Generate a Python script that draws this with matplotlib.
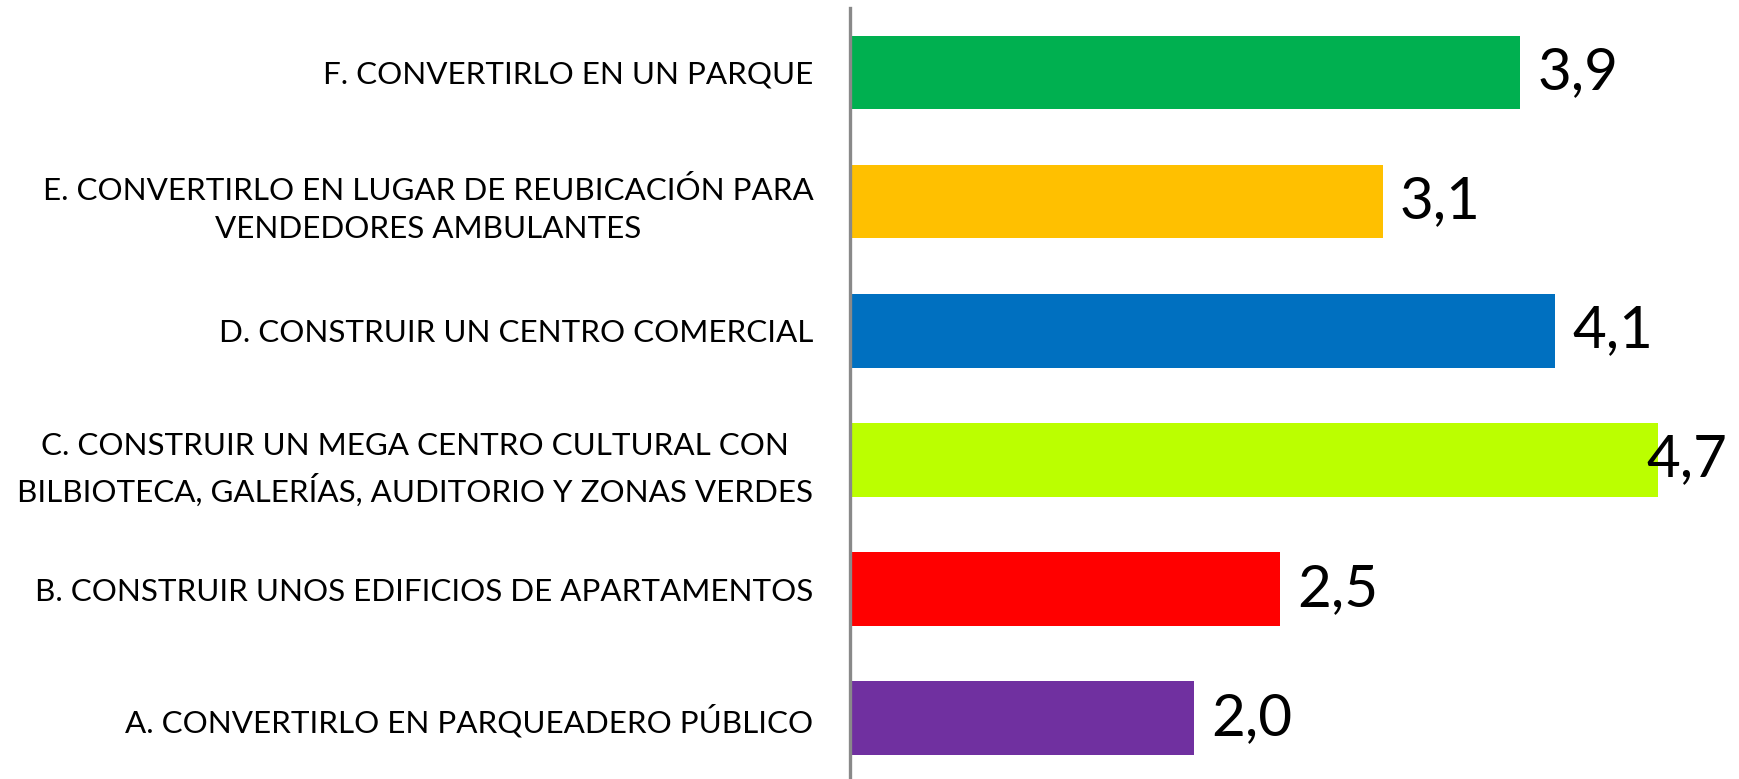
import matplotlib
matplotlib.use("Agg")
import matplotlib.pyplot as plt
from matplotlib.transforms import blended_transform_factory

categories = [
    "A. CONVERTIRLO EN PARQUEADERO PÚBLICO",
    "B. CONSTRUIR UNOS EDIFICIOS DE APARTAMENTOS",
    "C. CONSTRUIR UN MEGA CENTRO CULTURAL CON\nBILBIOTECA, GALERÍAS, AUDITORIO Y ZONAS VERDES",
    "D. CONSTRUIR UN CENTRO COMERCIAL",
    "E. CONVERTIRLO EN LUGAR DE REUBICACIÓN PARA\nVENDEDORES AMBULANTES",
    "F. CONVERTIRLO EN UN PARQUE",
]
values = [2.0, 2.5, 4.7, 4.1, 3.1, 3.9]
colors = ["#7030A0", "#FF0000", "#BBFF00", "#0070C0", "#FFC000", "#00B050"]

plt.rcParams['font.family'] = ['Lato', 'DejaVu Sans']

fig = plt.figure(figsize=(17.39, 7.79), dpi=100)
ax = fig.add_axes([0.4885, -0.005, 0.4966, 0.995])

ypos = list(range(len(categories)))
ax.barh(ypos, values, height=0.57, color=colors)
ax.set_xlim(0, 5.02)
ax.set_ylim(-0.5, 5.5)

for s in ["top", "right", "bottom"]:
    ax.spines[s].set_visible(False)
ax.spines["left"].set_color("#898989")
ax.spines["left"].set_linewidth(2.4)
ax.set_xticks([])
ax.set_yticks(ypos)
ax.set_yticklabels(categories, fontsize=22.6, multialignment="center", linespacing=1.47)
ax.tick_params(axis="y", length=0, pad=26)

trans = blended_transform_factory(fig.transFigure, ax.transData)
for y, v in zip(ypos, values):
    lbl = f"{v:.1f}".replace(".", ",")
    if v > 4.5:
        ax.text(0.993, y, lbl, transform=trans, ha="right", va="center", fontsize=42)
    else:
        ax.text(v + 0.1, y, lbl, ha="left", va="center", fontsize=42)

fig.savefig("out.png", dpi=100)
